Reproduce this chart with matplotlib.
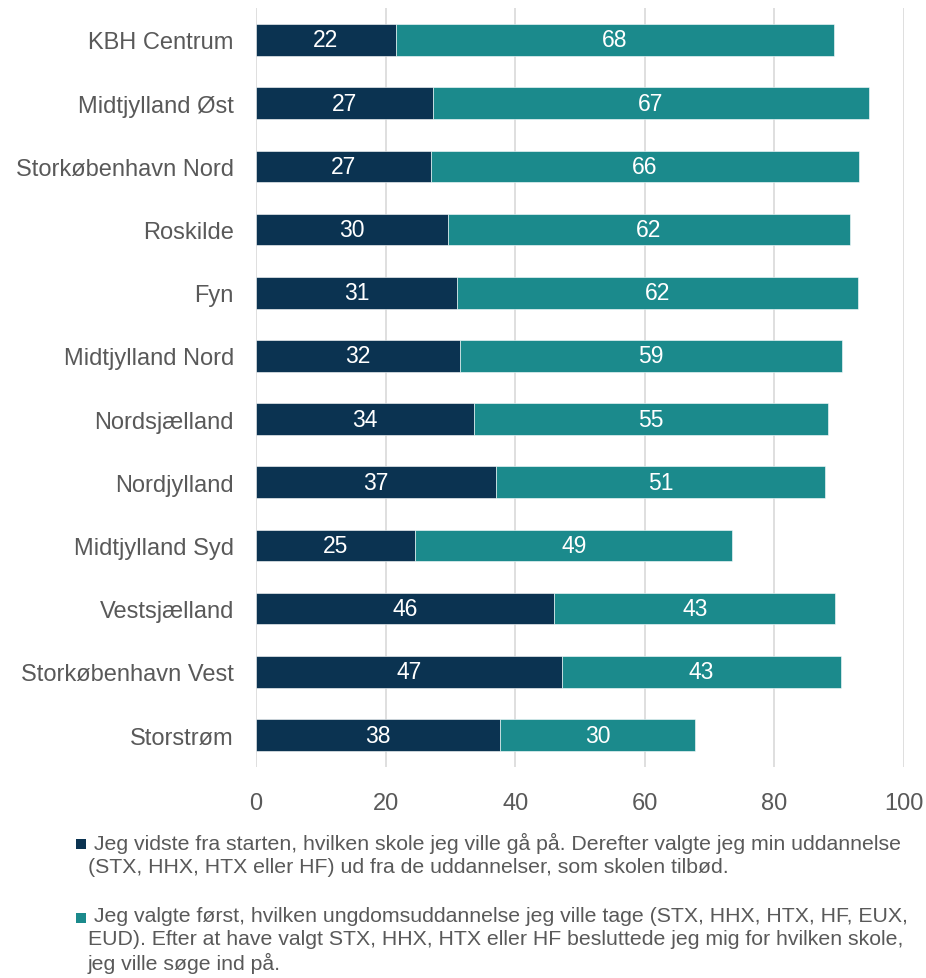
import matplotlib
matplotlib.use("Agg")
import matplotlib.pyplot as plt
from matplotlib.patches import Rectangle

plt.rcParams['font.family'] = ['Liberation Sans', 'DejaVu Sans']

regions = ["KBH Centrum", "Midtjylland Øst", "Storkøbenhavn Nord", "Roskilde", "Fyn",
           "Midtjylland Nord", "Nordsjælland", "Nordjylland", "Midtjylland Syd",
           "Vestsjælland", "Storkøbenhavn Vest", "Storstrøm"]
school_first = [21.6, 27.3, 27.0, 29.6, 31.0, 31.5, 33.6, 37.0, 24.6, 46.0, 47.2, 37.6]
education_first = [67.6, 67.3, 66.1, 62.0, 61.9, 59.0, 54.6, 50.8, 48.9, 43.4, 43.1, 30.2]
xticks = [0, 20, 40, 60, 80, 100]
legend_texts = [
    " Jeg vidste fra starten, hvilken skole jeg ville gå på. Derefter valgte jeg min uddannelse\n(STX, HHX, HTX eller HF) ud fra de uddannelser, som skolen tilbød.",
    " Jeg valgte først, hvilken ungdomsuddannelse jeg ville tage (STX, HHX, HTX, HF, EUX,\nEUD). Efter at have valgt STX, HHX, HTX eller HF besluttede jeg mig for hvilken skole,\njeg ville søge ind på.",
]

dark = "#0b3351"
teal = "#1b8a8c"
textc = "#595959"

fig = plt.figure(figsize=(9.26, 9.79), dpi=100)
ax = fig.add_axes([256/926, 1-767.6/979, 648/926, (767.6-9.4)/979])

y = list(range(len(regions)))
b1 = ax.barh(y, school_first, height=0.5, color=dark, edgecolor="white", linewidth=0.4, zorder=3)
b2 = ax.barh(y, education_first, left=school_first, height=0.5, color=teal, edgecolor="white", linewidth=0.4, zorder=3)
for vals, lefts in [(school_first, [0]*len(y)), (education_first, school_first)]:
    for i, (v, l) in enumerate(zip(vals, lefts)):
        ax.text(l + v/2, i, f"{round(v):d}", ha="center", va="center", color="white", fontsize=16.5, zorder=4)

ax.set_ylim(len(regions)-0.5, -0.5)
ax.set_xlim(0, 100)
ax.set_xticks(xticks)
ax.set_yticks(y)
ax.set_yticklabels(regions)
ax.tick_params(axis="y", length=0, pad=16, labelsize=17, labelcolor=textc)
ax.tick_params(axis="x", length=0, pad=18, labelsize=17, labelcolor=textc)
ax.grid(axis="x", color="#d9d9d9", linewidth=1.2, zorder=0)
for s in ax.spines.values():
    s.set_visible(False)

# legend
ys = [845, 919]
cols = [dark, teal]
for yy, c, t in zip(ys, cols, legend_texts):
    fig.patches.append(Rectangle((76/926, 1-(yy+5)/979), 10/926, 10/979, transform=fig.transFigure,
                                 facecolor=c, edgecolor="none"))
    fig.text(88/926, 1-(yy-12)/979, t, ha="left", va="top", fontsize=15.3, color=textc, linespacing=1.25)

fig.savefig("out.png", dpi=100)
